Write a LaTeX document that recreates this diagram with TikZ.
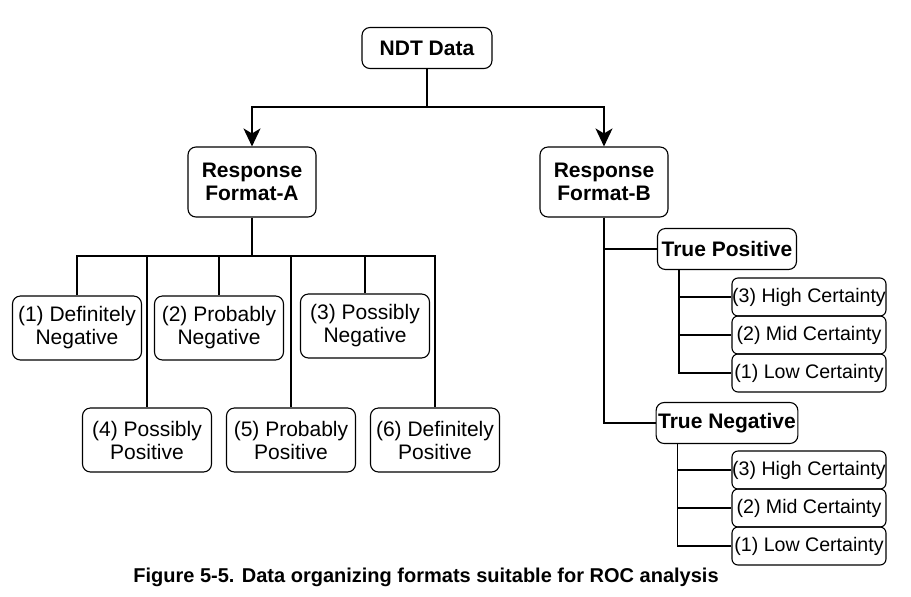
\documentclass[tikz,border=0pt]{standalone}
\usepackage{fontspec}
\setmainfont{Liberation Sans}
\usetikzlibrary{arrows.meta}
\tikzstyle{box} = [rectangle, draw, rounded corners=4pt, align=center, line width=0.55pt, inner xsep=1pt, font=\fontsize{10.5}{11.5}\selectfont]
\tikzstyle{head} = [box, font=\fontsize{10.5}{11.5}\selectfont\bfseries]
\tikzstyle{leaf} = [box, minimum width=64.5pt, minimum height=32pt]
\tikzstyle{grade} = [box, rounded corners=3pt, inner xsep=0pt, minimum width=77pt, minimum height=19pt, font=\fontsize{9.8}{11.5}\selectfont]
\tikzstyle{link} = [line width=0.55pt]
\tikzstyle{feed} = [line width=1pt, -{Stealth[length=9pt, width=8.5pt, inset=2.5pt]}]

\begin{document}
\begin{tikzpicture}[x=0.5pt, y=-0.5pt]
    \useasboundingbox (0,0) rectangle (911,596);

    % Top levels
    \node[head, minimum width=65pt, minimum height=20.5pt] (ndt) at (427,48) {NDT Data};
    \node[head, minimum width=64pt, minimum height=35pt] (fmtA) at (252,182) {Response\\Format-A};
    \node[head, minimum width=64pt, minimum height=35pt] (fmtB) at (604,182) {Response\\Format-B};
    \coordinate (split) at (427,107);
    \draw[link] (ndt.south) -- (split);
    \draw[feed] (split) -| (fmtA.north);
    \draw[feed] (split) -| (fmtB.north);

    % Format-A grades
    \node[leaf] (dn) at (77,328) {(1) Definitely\\Negative};
    \node[leaf] (pn) at (219,328) {(2) Probably\\Negative};
    \node[leaf] (sn) at (365,326) {(3) Possibly\\Negative};
    \node[leaf] (sp) at (147,440) {(4) Possibly\\Positive};
    \node[leaf] (pp) at (291,440) {(5) Probably\\Positive};
    \node[leaf] (dp) at (435,440) {(6) Definitely\\Positive};
    \coordinate (busA) at (252,256);
    \draw[link] (fmtA.south) -- (busA);
    \foreach \n in {dn,pn,sn,sp,pp,dp}
        \draw[link] (busA) -| (\n.north);

    % Format-B classes
    \node[head, minimum width=69.5pt, minimum height=20.5pt] (tp) at (727,249) {True Positive};
    \node[head, minimum width=69.5pt, minimum height=20.5pt] (tn) at (727,423) {True Negative};
    \draw[link] (fmtB.south) |- (tp.west);
    \draw[link] (fmtB.south) |- (tn.west);

    % Certainty levels
    \node[grade] (tp3) at (809,297) {(3) High Certainty};
    \node[grade] (tp2) at (809,335) {(2) Mid Certainty};
    \node[grade] (tp1) at (809,373) {(1) Low Certainty};
    \node[grade] (tn3) at (809,470) {(3) High Certainty};
    \node[grade] (tn2) at (809,508) {(2) Mid Certainty};
    \node[grade] (tn1) at (809,546) {(1) Low Certainty};
    \foreach \n in {tp3,tp2,tp1}
        \draw[link] ([xshift=11pt]tp.south west) |- (\n.west);
    \foreach \n in {tn3,tn2,tn1}
        \draw[link] ([xshift=11pt]tn.south west) |- (\n.west);

    % Caption
    \node[font=\fontsize{10}{11.5}\selectfont\bfseries] (cap) at (426,577) {Figure 5-5. Data organizing formats suitable for ROC analysis};
\end{tikzpicture}
\end{document}
